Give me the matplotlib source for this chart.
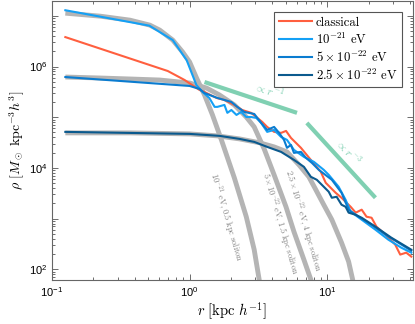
import matplotlib
matplotlib.use("Agg")
import matplotlib.pyplot as plt
import numpy as np

plt.rcParams['mathtext.fontset'] = 'cm'
plt.rcParams['mathtext.rm'] = 'Liberation Sans'
plt.rcParams['mathtext.it'] = 'Liberation Sans:italic'
plt.rcParams['mathtext.bf'] = 'Liberation Sans:bold'
plt.rcParams['font.family'] = 'serif'
plt.rcParams['font.serif'] = ['cmr10', 'DejaVu Serif']

# simulation profiles
r_cl   = [0.125, 0.694, 0.920, 1.18, 1.28, 1.57, 1.79, 2.11, 2.41, 2.80, 3.05, 3.37, 3.66, 4.11, 4.62,
          5.02, 5.45, 6.44, 7.60, 8.98, 9.75, 11.5, 12.7, 14.8, 16.1, 17.8, 19.3, 21.0, 22.8, 26.5,
          31.2, 33.9, 37.5, 40.8]
rho_cl = [3.81e6, 8.16e5, 5.42e5, 3.45e5, 3.15e5, 2.40e5, 2.19e5, 1.75e5, 1.39e5, 1.22e5, 1.01e5,
          8.08e4, 6.44e4, 5.14e4, 4.91e4, 5.37e4, 3.91e4, 2.49e4, 1.44e4, 8.37e3, 5.09e3, 3.24e3,
          2.58e3, 1.71e3, 1.31e3, 1.50e3, 1.09e3, 1.04e3, 693, 482, 306, 195, 213, 178]

r_21   = [0.125, 0.51, 0.607, 0.754, 0.951, 1.12, 1.24, 1.39, 1.52, 1.59, 1.79, 1.88, 2.01, 2.19,
          2.37, 2.58, 2.80, 3.05, 3.31, 3.66, 4.11, 4.62, 5.10, 5.73, 6.77, 7.99, 9.43, 10.25, 12.1,
          13.6, 14.8, 17.8, 22.4, 27.8, 34.5, 40.8]
rho_21 = [1.29e7, 6.4e6, 4.78e6, 3.33e6, 1.34e6, 4.32e5, 3.15e5, 2.40e5, 1.60e5, 1.60e5, 1.75e5,
          1.22e5, 1.39e5, 1.11e5, 1.27e5, 1.01e5, 1.01e5, 9.69e4, 7.72e4, 5.14e4, 5.62e4, 4.09e4,
          3.57e4, 2.27e4, 1.65e4, 1.32e4, 9.17e3, 7.31e3, 4.25e3, 2.35e3, 1.37e3, 951, 604, 384,
          267, 213]

r_5    = [0.125, 1.0, 1.18, 1.28, 1.59, 2.01, 2.22, 2.50, 2.95, 3.31, 3.66, 4.11, 4.47, 4.85, 5.10,
          5.45, 5.73, 6.44, 7.00, 7.73, 8.68, 10.8, 12.7, 14.3, 16.9, 21.0, 26.5, 32.8, 40.8]
rho_5  = [6.21e5, 4.14e5, 3.61e5, 3.01e5, 2.40e5, 2.00e5, 1.60e5, 1.27e5, 1.16e5, 7.72e4, 5.62e4,
          6.44e4, 4.91e4, 3.57e4, 2.49e4, 2.85e4, 1.98e4, 2.07e4, 1.58e4, 1.26e4, 9.17e3, 5.83e3,
          3.24e3, 1.50e3, 1.09e3, 759, 482, 336, 233]

r_25   = [0.125, 1.0, 1.65, 2.30, 2.95, 3.66, 4.62, 5.73, 6.77, 7.60, 8.40, 9.13, 10.25, 10.8, 11.7,
          12.7, 13.6, 14.3, 16.1, 17.8, 22.4, 29.2, 40.8]
rho_25 = [5.14e4, 4.69e4, 4.29e4, 3.74e4, 3.26e4, 2.60e4, 2.07e4, 1.44e4, 1.05e4, 6.68e3, 5.83e3,
          4.65e3, 3.39e3, 2.58e3, 2.70e3, 1.88e3, 1.71e3, 1.31e3, 1.19e3, 1.04e3, 693, 421, 244]

# soliton profiles
r_s1   = [0.125, 0.224, 0.369, 0.514, 0.607, 0.754, 0.890, 1.0, 1.123, 1.283, 1.466, 1.702, 2.113,
          2.580, 2.946, 3.202, 3.311]
rho_s1 = [1.13e7, 9.86e6, 8.22e6, 6.56e6, 5.23e6, 3.33e6, 1.93e6, 1.23e6, 5.94e5, 2.75e5, 1.11e5,
          3.57e4, 6.38e3, 1.09e3, 244, 62.7, 31.8]
r_s2   = [0.125, 0.224, 0.369, 0.607, 1.0, 1.327, 1.647, 2.113, 2.580, 2.946, 3.479, 4.110, 5.015,
          5.729, 6.767, 7.602, 7.990]
rho_s2 = [6.21e5, 5.94e5, 5.68e5, 5.42e5, 4.73e5, 3.77e5, 2.75e5, 1.75e5, 1.01e5, 6.44e4, 2.38e4,
          7.31e3, 1.71e3, 552, 155, 62.7, 31.8]
r_s3   = [0.125, 0.369, 1.0, 1.59, 2.30, 3.20, 4.11, 5.10, 6.23, 7.35, 8.26, 9.43, 10.8, 12.7, 14.3,
          15.3, 15.8]
rho_s3 = [4.91e4, 4.91e4, 4.69e4, 4.29e4, 3.74e4, 3.15e4, 2.60e4, 2.07e4, 1.15e4, 6.68e3, 3.71e3,
          1.88e3, 951, 336, 142, 62.7, 31.8]

# power-law guides
r_g1, rho_g1 = [1.283, 6.03], [4.95e5, 1.22e5]
r_g3, rho_g3 = [7.11, 22.4], [7.72e4, 2.58e3]

labels = ['classical', r'$10^{-21}$ eV', r'$5\times10^{-22}$ eV', r'$2.5\times10^{-22}$ eV']
colors = ['#FF5F3F', '#14A0F5', '#0A7CD0', '#0B5A8E']
gray = '#B4B4B4'
green = '#80D0B2'

fig = plt.figure(figsize=(4.15, 3.24), dpi=100)
ax = fig.add_axes([0.1253, 0.1358, 0.8699, 0.8596])

for r, rho in [(r_s1, rho_s1), (r_s2, rho_s2), (r_s3, rho_s3)]:
    ax.plot(r, rho, color=gray, lw=3.5, solid_capstyle='butt', zorder=1)

ax.plot(r_g1, rho_g1, color=green, lw=3.0, solid_capstyle='butt', zorder=2)
ax.plot(r_g3, rho_g3, color=green, lw=3.0, solid_capstyle='butt', zorder=2)

lines = []
for r, rho, c in [(r_cl, rho_cl, colors[0]), (r_21, rho_21, colors[1]),
                  (r_5, rho_5, colors[2]), (r_25, rho_25, colors[3])]:
    l, = ax.plot(r, rho, color=c, lw=1.5, zorder=3)
    lines.append(l)

ax.text(3.78, 3.31e5, r'$\propto r^{-1}$', color=green, fontsize=8, rotation=-18,
        ha='center', va='center', rotation_mode='anchor')
ax.text(14.3, 2.07e4, r'$\propto r^{-3}$', color=green, fontsize=8, rotation=-47,
        ha='center', va='center', rotation_mode='anchor')

sol_kw = dict(color='#808080', fontsize=6, rotation=-73.5, ha='center', va='center',
              rotation_mode='anchor')
ax.text(1.85, 1.09e3, r'$10^{-21}$ eV, 0.5 kpc soliton', **sol_kw)
ax.text(4.54, 7.9e2, r'$5\times10^{-22}$ eV, 1.5 kpc soliton', **sol_kw)
ax.text(6.65, 9.1e2, r'$2.5\times10^{-22}$ eV, 4 kpc soliton', **sol_kw)

ax.set_xscale('log')
ax.set_yscale('log')
ax.set_xlim(0.1, 42)
ax.set_ylim(61.5, 1.92e7)

ax.set_xticks([0.1, 1, 10], [r'$10^{-1}$', r'$10^{0}$', r'$10^{1}$'],
              math_fontfamily='custom', fontsize=8)
ax.set_yticks([1e2, 1e3, 1e4, 1e5, 1e6, 1e7],
              [r'$10^{2}$', '', r'$10^{4}$', '', r'$10^{6}$', ''],
              math_fontfamily='custom', fontsize=8)
ax.xaxis.set_minor_locator(matplotlib.ticker.LogLocator(base=10, subs=np.arange(2, 10)))
ax.yaxis.set_minor_locator(matplotlib.ticker.LogLocator(base=10, subs=np.arange(2, 10), numticks=20))
ax.yaxis.set_minor_formatter(matplotlib.ticker.NullFormatter())
ax.xaxis.set_minor_formatter(matplotlib.ticker.NullFormatter())
ax.tick_params(which='both', direction='in', top=True, right=True, color='#555555', width=0.6)
ax.tick_params(which='major', length=4)
ax.tick_params(which='minor', length=2)
for s in ax.spines.values():
    s.set_color('#666666')
    s.set_linewidth(0.8)

ax.set_xlabel(r'$r\ [\mathrm{kpc}\ h^{-1}]$', fontsize=10.5, labelpad=1)
ax.set_ylabel(r'$\rho\ [M_\odot\ \mathrm{kpc}^{-3} h^3]$', fontsize=10, labelpad=1)

leg = ax.legend(lines, labels, loc='upper right', bbox_to_anchor=(0.9695, 0.962),
                borderaxespad=0, fancybox=False, framealpha=1,
                edgecolor='#555555', handlelength=2.6, handletextpad=0.3,
                labelspacing=0.22, borderpad=0.35,
                prop={'family': 'serif', 'size': 9.2})
leg.get_frame().set_linewidth(0.8)
for t in leg.get_texts():
    t.set_math_fontfamily('cm')

fig.savefig('out.png', dpi=100)
